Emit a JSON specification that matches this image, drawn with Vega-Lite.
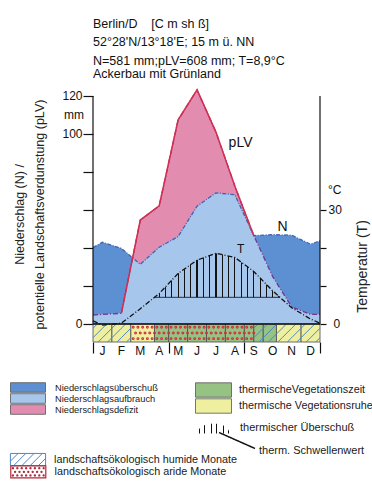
{
  "$schema": "https://vega.github.io/schema/vega-lite/v6.json",
  "width": 227,
  "height": 256,
  "autosize": {"type": "none"},
  "padding": {"left": 93, "top": 86, "right": 52, "bottom": 149},
  "background": "white",
  "config": {
    "view": {"stroke": null},
    "font": "Liberation Sans",
    "axis": {"labelFont": "Liberation Sans", "tickColor": "#111", "labelColor": "#111", "grid": false, "domain": false, "ticks": true},
    "legend": {"padding": 0, "labelFont": "Liberation Sans", "labelColor": "#1a1a1a", "labelLimit": 400}
  },
  "title": {
    "text": ["Berlin/D \u00a0\u00a0 [C m sh ß]", "52°28'N/13°18'E; 15 m ü. NN", "N=581 mm;pLV=608 mm; T=8,9°C"],
    "subtitle": "Ackerbau mit Grünland",
    "anchor": "start",
    "frame": "group",
    "font": "Liberation Sans",
    "fontSize": 12.5,
    "fontWeight": "normal",
    "color": "#111",
    "lineHeight": 18.75,
    "subtitleFont": "Liberation Sans",
    "subtitleFontSize": 12.5,
    "subtitleColor": "#111",
    "subtitlePadding": 0.5,
    "offset": 5.5
  },
  "datasets": {
    "clim": [
      {"m": 0.5, "N": 40.2, "pLV": 4.7, "T": 0.8},
      {"m": 1, "N": 43.0, "pLV": 5.0, "T": -0.3},
      {"m": 2, "N": 39.8, "pLV": 5.6, "T": 0.2},
      {"m": 3, "N": 31.4, "pLV": 54.7, "T": 4.0},
      {"m": 4, "N": 40.4, "pLV": 62.2, "T": 8.0},
      {"m": 5, "N": 46.0, "pLV": 107.4, "T": 13.3},
      {"m": 6, "N": 62.0, "pLV": 123.2, "T": 16.8},
      {"m": 7, "N": 69.0, "pLV": 101.0, "T": 18.6},
      {"m": 8, "N": 68.0, "pLV": 72.5, "T": 17.5},
      {"m": 9, "N": 46.5, "pLV": 46.5, "T": 13.8},
      {"m": 10, "N": 47.0, "pLV": 24.9, "T": 8.7},
      {"m": 11, "N": 46.7, "pLV": 9.0, "T": 4.3},
      {"m": 12, "N": 42.0, "pLV": 5.0, "T": 1.3},
      {"m": 12.5, "N": 43.7, "pLV": 5.1, "T": 0.2}
    ],
    "aufbrauch": [
      {"m": 0.5, "A": 4.7}, {"m": 1, "A": 5.0}, {"m": 2, "A": 5.6}, {"m": 2.595, "A": 34.8},
      {"m": 3, "A": 31.4}, {"m": 4, "A": 40.4}, {"m": 5, "A": 46.0}, {"m": 6, "A": 62.0},
      {"m": 7, "A": 69.0}, {"m": 8, "A": 68.0}, {"m": 9, "A": 46.5}, {"m": 10, "A": 24.9},
      {"m": 11, "A": 9.0}, {"m": 12, "A": 5.0}, {"m": 12.5, "A": 5.1}
    ],
    "surplus": [
      {"m": 3.75, "T": 7}, {"m": 4, "T": 8.0}, {"m": 5, "T": 13.3}, {"m": 6, "T": 16.8},
      {"m": 7, "T": 18.6}, {"m": 8, "T": 17.5}, {"m": 9, "T": 13.8}, {"m": 10, "T": 8.7}, {"m": 10.39, "T": 7}
    ],
    "thresh": [{"from": 3.75, "to": 10.39, "T": 7}],
    "bands": [
      {"from": 0.5, "to": 1.5, "veg": "thermische Vegetationsruhe"},
      {"from": 1.5, "to": 2.5, "veg": "thermische Vegetationsruhe"},
      {"from": 2.5, "to": 3.75, "veg": "thermische Vegetationsruhe"},
      {"from": 3.75, "to": 4.5, "veg": "thermischeVegetationszeit"},
      {"from": 4.5, "to": 5.5, "veg": "thermischeVegetationszeit"},
      {"from": 5.5, "to": 6.5, "veg": "thermischeVegetationszeit"},
      {"from": 6.5, "to": 7.5, "veg": "thermischeVegetationszeit"},
      {"from": 7.5, "to": 8.5, "veg": "thermischeVegetationszeit"},
      {"from": 8.5, "to": 9.0, "veg": "thermischeVegetationszeit"},
      {"from": 9.0, "to": 9.5, "veg": "thermischeVegetationszeit"},
      {"from": 9.5, "to": 10.2, "veg": "thermischeVegetationszeit"},
      {"from": 10.2, "to": 11.5, "veg": "thermische Vegetationsruhe"},
      {"from": 11.5, "to": 12.5, "veg": "thermische Vegetationsruhe"}
    ],
    "cells": [
      {"m": 0.75, "hum": "landschaftsökologisch humide Monate"},
      {"m": 1.25, "hum": "landschaftsökologisch humide Monate"},
      {"m": 1.75, "hum": "landschaftsökologisch humide Monate"},
      {"m": 2.25, "hum": "landschaftsökologisch humide Monate"},
      {"m": 2.75, "hum": "landschaftsökologisch aride Monate"},
      {"m": 3.25, "hum": "landschaftsökologisch aride Monate"},
      {"m": 3.75, "hum": "landschaftsökologisch aride Monate"},
      {"m": 4.25, "hum": "landschaftsökologisch aride Monate"},
      {"m": 4.75, "hum": "landschaftsökologisch aride Monate"},
      {"m": 5.25, "hum": "landschaftsökologisch aride Monate"},
      {"m": 5.75, "hum": "landschaftsökologisch aride Monate"},
      {"m": 6.25, "hum": "landschaftsökologisch aride Monate"},
      {"m": 6.75, "hum": "landschaftsökologisch aride Monate"},
      {"m": 7.25, "hum": "landschaftsökologisch aride Monate"},
      {"m": 7.75, "hum": "landschaftsökologisch aride Monate"},
      {"m": 8.25, "hum": "landschaftsökologisch aride Monate"},
      {"m": 8.75, "hum": "landschaftsökologisch aride Monate"},
      {"m": 9.25, "hum": "landschaftsökologisch humide Monate"},
      {"m": 9.75, "hum": "landschaftsökologisch humide Monate"},
      {"m": 10.25, "hum": "landschaftsökologisch humide Monate"},
      {"m": 10.75, "hum": "landschaftsökologisch humide Monate"},
      {"m": 11.25, "hum": "landschaftsökologisch humide Monate"},
      {"m": 11.75, "hum": "landschaftsökologisch humide Monate"},
      {"m": 12.25, "hum": "landschaftsökologisch humide Monate"}
    ],
    "months": [
      {"m": 1, "t": "J"}, {"m": 2, "t": "F"}, {"m": 3, "t": "M"}, {"m": 4, "t": "A"}, {"m": 5, "t": "M"}, {"m": 6, "t": "J"},
      {"m": 7, "t": "J"}, {"m": 8, "t": "A"}, {"m": 9, "t": "S"}, {"m": 10, "t": "O"}, {"m": 11, "t": "N"}, {"m": 12, "t": "D"}
    ],
    "frame": [{"m": 0.5}, {"m": 12.5}],
    "labels": [{"m": 8.3, "v": 95.3, "t": "pLV"}, {"m": 10.52, "v": 51, "t": "N"}],
    "mmunit": [{"m": 0.5, "v": 110, "t": "mm"}],
    "tlabel": [{"m": 8.3, "T": 19.7, "t": "T"}],
    "cunit": [{"m": 12.5, "T": 35.3, "t": "°C"}]
  },
  "resolve": {"scale": {"y": "independent"}, "axis": {"y": "independent"}},
  "layer": [
    {
      "layer": [
        {
          "data": {"name": "clim"},
          "mark": {"type": "area"},
          "encoding": {
            "x": {"field": "m", "type": "quantitative", "scale": {"domain": [0.5, 12.5], "nice": false, "zero": false},
              "axis": {"orient": "bottom", "values": [0.5, 1.5, 2.5, 3.5, 4.5, 5.5, 6.5, 7.5, 8.5, 9.5, 10.5, 11.5, 12.5],
                "labels": false, "tickSize": 11, "tickWidth": 1.2, "title": null}},
            "y": {"field": "N", "type": "quantitative", "scale": {"domain": [-9.5, 125.25], "nice": false, "zero": false},
              "axis": {
                "orient": "left",
                "values": [0, 20, 40, 60, 80, 100, 120],
                "labelExpr": "(datum.value === 0 || datum.value >= 100) ? datum.label : ''",
                "labelOverlap": false,
                "tickSize": 10, "tickWidth": 1.2, "labelPadding": 1, "labelFontSize": 12,
                "title": ["Niederschlag (N) /", "potentielle Landschaftsverdunstung (pLV)"],
                "titleFont": "Liberation Sans", "titleFontSize": 12.5, "titleFontWeight": "normal", "titleColor": "#222",
                "titleAngle": 270, "titleX": -80, "titleY": 128, "titleAlign": "center", "titleBaseline": "top", "titleLineHeight": 20
              }},
            "y2": {"datum": 0},
            "color": {"datum": "Niederschlagsüberschuß", "type": "nominal",
              "scale": {"domain": ["Niederschlagsüberschuß", "Niederschlagsaufbrauch", "Niederschlagsdefizit"], "range": ["#5d8fd3", "#a6c6ec", "#e28db0"]},
              "legend": {"orient": "none", "legendX": -70.5, "legendY": 296, "title": null,
                "symbolType": "M-3.5,-0.96H3.5V0.96H-3.5Z", "symbolSize": 100, "symbolStrokeWidth": 0.8, "symbolStrokeColor": "#555",
                "labelFontSize": 9.3, "labelOffset": 21.5, "rowPadding": 0,
                "encode": {"symbols": {"update": {"stroke": {"value": "#555"}, "strokeWidth": {"value": 0.8}, "strokeJoin": {"value": "round"}, "opacity": {"value": 1}}}}}}
          }
        },
        {
          "data": {"name": "clim"},
          "mark": {"type": "area"},
          "encoding": {
            "x": {"field": "m", "type": "quantitative"},
            "y": {"field": "pLV", "type": "quantitative"},
            "y2": {"datum": 0},
            "color": {"datum": "Niederschlagsdefizit", "type": "nominal"}
          }
        },
        {
          "data": {"name": "aufbrauch"},
          "mark": {"type": "area"},
          "encoding": {
            "x": {"field": "m", "type": "quantitative"},
            "y": {"field": "A", "type": "quantitative"},
            "y2": {"datum": 0},
            "color": {"datum": "Niederschlagsaufbrauch", "type": "nominal"}
          }
        },
        {
          "data": {"name": "bands"},
          "mark": {"type": "rect", "stroke": "#4a4a4a", "strokeWidth": 0.8},
          "encoding": {
            "x": {"field": "from", "type": "quantitative"},
            "x2": {"field": "to"},
            "y": {"datum": 0},
            "y2": {"datum": -9.5},
            "fill": {"field": "veg", "type": "nominal",
              "scale": {"domain": ["thermischeVegetationszeit", "thermische Vegetationsruhe"], "range": ["#96c284", "#eef0a0"]},
              "legend": {"orient": "none", "legendX": 112.5, "legendY": 296, "title": null,
                "symbolType": "M-2.4,-0.96H2.4V0.96H-2.4Z", "symbolSize": 225, "symbolStrokeWidth": 0.8, "symbolStrokeColor": "#555",
                "labelFontSize": 10.8, "labelOffset": 17.5, "rowPadding": 0,
                "encode": {"symbols": {"update": {"stroke": {"value": "#555"}, "strokeWidth": {"value": 0.8}, "strokeJoin": {"value": "round"}, "opacity": {"value": 1}}}}}}
          }
        },
        {
          "data": {"name": "cells"},
          "transform": [{"filter": "datum.hum === 'landschaftsökologisch humide Monate'"}],
          "mark": {"type": "point", "filled": false, "opacity": 1, "size": 89.5, "strokeWidth": 1,
            "shape": "M-1,1L1,-1M0.1,1.9L1,1M-1,-1L-0.1,-1.9"},
          "encoding": {
            "x": {"field": "m", "type": "quantitative"},
            "y": {"datum": -4.75},
            "stroke": {"field": "hum", "type": "nominal",
              "scale": {"domain": ["landschaftsökologisch humide Monate", "landschaftsökologisch aride Monate"], "range": ["#4f86c6", "#d0303f"]},
              "legend": {"orient": "none", "legendX": -71, "legendY": 367.5, "title": null,
                "values": ["landschaftsökologisch humide Monate"],
                "symbolType": "M-3.2,-1.1H3.2V1.1H-3.2ZM-3.2,0.3L-1.8,-1.1M-2.6,1.1L-0.4,-1.1M-1.1,1.1L1.1,-1.1M0.4,1.1L2.6,-1.1M1.9,1.1L3.2,-0.2",
                "symbolSize": 121, "symbolStrokeWidth": 1, "symbolFillColor": "transparent",
                "labelFontSize": 10.8, "labelOffset": 20}}
          }
        },
        {
          "data": {"name": "cells"},
          "transform": [{"filter": "datum.hum === 'landschaftsökologisch aride Monate'"}],
          "mark": {"type": "point", "filled": false, "opacity": 1, "strokeWidth": 1.8,
            "shape": "M-0.62,-1.2a0.12,0.12 0 1,0 0.24,0a0.12,0.12 0 1,0 -0.24,0M0.38,-1.2a0.12,0.12 0 1,0 0.24,0a0.12,0.12 0 1,0 -0.24,0M-0.12,0a0.12,0.12 0 1,0 0.24,0a0.12,0.12 0 1,0 -0.24,0M0.88,0a0.12,0.12 0 1,0 0.24,0a0.12,0.12 0 1,0 -0.24,0M-0.62,1.2a0.12,0.12 0 1,0 0.24,0a0.12,0.12 0 1,0 -0.24,0M0.38,1.2a0.12,0.12 0 1,0 0.24,0a0.12,0.12 0 1,0 -0.24,0"},
          "encoding": {
            "x": {"field": "m", "type": "quantitative"},
            "y": {"datum": -4.75},
            "stroke": {"field": "hum", "type": "nominal"},
            "size": {"field": "hum", "type": "ordinal",
              "scale": {"domain": ["landschaftsökologisch aride Monate"], "range": [89.5, 89.5]},
              "legend": {"orient": "none", "legendX": -70.2, "legendY": 380.3, "title": null,
                "symbolType": "M-3.7,-1.27H3.7V1.27H-3.7ZM-3.37,-0.76a0.12,0.12 0 1,0 0.24,0a0.12,0.12 0 1,0 -0.24,0M-2.44,-0.76a0.12,0.12 0 1,0 0.24,0a0.12,0.12 0 1,0 -0.24,0M-1.51,-0.76a0.12,0.12 0 1,0 0.24,0a0.12,0.12 0 1,0 -0.24,0M-0.58,-0.76a0.12,0.12 0 1,0 0.24,0a0.12,0.12 0 1,0 -0.24,0M0.34,-0.76a0.12,0.12 0 1,0 0.24,0a0.12,0.12 0 1,0 -0.24,0M1.27,-0.76a0.12,0.12 0 1,0 0.24,0a0.12,0.12 0 1,0 -0.24,0M2.2,-0.76a0.12,0.12 0 1,0 0.24,0a0.12,0.12 0 1,0 -0.24,0M3.13,-0.76a0.12,0.12 0 1,0 0.24,0a0.12,0.12 0 1,0 -0.24,0M-2.91,0a0.12,0.12 0 1,0 0.24,0a0.12,0.12 0 1,0 -0.24,0M-1.98,0a0.12,0.12 0 1,0 0.24,0a0.12,0.12 0 1,0 -0.24,0M-1.05,0a0.12,0.12 0 1,0 0.24,0a0.12,0.12 0 1,0 -0.24,0M-0.12,0a0.12,0.12 0 1,0 0.24,0a0.12,0.12 0 1,0 -0.24,0M0.81,0a0.12,0.12 0 1,0 0.24,0a0.12,0.12 0 1,0 -0.24,0M1.74,0a0.12,0.12 0 1,0 0.24,0a0.12,0.12 0 1,0 -0.24,0M2.67,0a0.12,0.12 0 1,0 0.24,0a0.12,0.12 0 1,0 -0.24,0M-3.37,0.76a0.12,0.12 0 1,0 0.24,0a0.12,0.12 0 1,0 -0.24,0M-2.44,0.76a0.12,0.12 0 1,0 0.24,0a0.12,0.12 0 1,0 -0.24,0M-1.51,0.76a0.12,0.12 0 1,0 0.24,0a0.12,0.12 0 1,0 -0.24,0M-0.58,0.76a0.12,0.12 0 1,0 0.24,0a0.12,0.12 0 1,0 -0.24,0M0.34,0.76a0.12,0.12 0 1,0 0.24,0a0.12,0.12 0 1,0 -0.24,0M1.27,0.76a0.12,0.12 0 1,0 0.24,0a0.12,0.12 0 1,0 -0.24,0M2.2,0.76a0.12,0.12 0 1,0 0.24,0a0.12,0.12 0 1,0 -0.24,0M3.13,0.76a0.12,0.12 0 1,0 0.24,0a0.12,0.12 0 1,0 -0.24,0",
                "symbolStrokeWidth": 1.2, "symbolStrokeColor": "#b02a3c", "symbolFillColor": "transparent",
                "labelFontSize": 10.8, "labelOffset": 20.8,
                "encode": {"symbols": {"update": {"stroke": {"value": "#b02a3c"}, "strokeWidth": {"value": 1.2}, "fill": {"value": "transparent"}, "opacity": {"value": 1}}}}}}
          }
        },
        {
          "data": {"name": "clim"},
          "mark": {"type": "line", "color": "#3f63b5", "strokeWidth": 1.3, "strokeDash": [4, 1.5, 1, 1.5]},
          "encoding": {
            "x": {"field": "m", "type": "quantitative"},
            "y": {"field": "N", "type": "quantitative"}
          }
        },
        {
          "data": {"name": "clim"},
          "mark": {"type": "line", "color": "#6e3a8f", "strokeWidth": 1.3, "strokeDash": [5, 2, 1, 2]},
          "encoding": {
            "x": {"field": "m", "type": "quantitative"},
            "y": {"field": "pLV", "type": "quantitative"}
          }
        },
        {
          "data": {"name": "clim"},
          "transform": [{"filter": "datum.m >= 2 && datum.m <= 9"}],
          "mark": {"type": "line", "color": "#d42d4f", "strokeWidth": 1.5},
          "encoding": {
            "x": {"field": "m", "type": "quantitative"},
            "y": {"field": "pLV", "type": "quantitative"}
          }
        },
        {
          "data": {"name": "frame"},
          "mark": {"type": "rule", "color": "#111", "strokeWidth": 1.2},
          "encoding": {
            "x": {"field": "m", "type": "quantitative"},
            "y": {"datum": 0},
            "y2": {"datum": 120}
          }
        },
        {
          "data": {"name": "frame"},
          "transform": [{"filter": "datum.m < 1"}],
          "mark": {"type": "rule", "color": "#111", "strokeWidth": 1.6},
          "encoding": {
            "x": {"datum": 0.5, "type": "quantitative"},
            "x2": {"datum": 12.5},
            "y": {"datum": 0}
          }
        },
        {
          "data": {"name": "months"},
          "mark": {"type": "text", "font": "Liberation Sans", "fontSize": 12, "color": "#111", "align": "center", "baseline": "top", "dy": 4},
          "encoding": {
            "x": {"field": "m", "type": "quantitative"},
            "y": {"datum": -9.5},
            "text": {"field": "t"}
          }
        },
        {
          "data": {"name": "labels"},
          "mark": {"type": "text", "font": "Liberation Sans", "fontSize": 14, "color": "#111", "align": "center", "baseline": "middle"},
          "encoding": {
            "x": {"field": "m", "type": "quantitative"},
            "y": {"field": "v", "type": "quantitative"},
            "text": {"field": "t"}
          }
        },
        {
          "data": {"name": "mmunit"},
          "mark": {"type": "text", "font": "Liberation Sans", "fontSize": 12, "color": "#111", "align": "right", "baseline": "middle", "dx": -9},
          "encoding": {
            "x": {"field": "m", "type": "quantitative"},
            "y": {"field": "v", "type": "quantitative"},
            "text": {"field": "t"}
          }
        }
      ]
    },
    {
      "layer": [
        {
          "data": {"name": "surplus"},
          "mark": {"type": "area",
            "fill": {"gradient": "linear", "x1": 0, "y1": 0, "x2": 1, "y2": 0, "stops": [
              {"offset": 0, "color": "rgba(0,0,0,0)"},
              {"offset": 0.0332, "color": "rgba(0,0,0,0)"}, {"offset": 0.0332, "color": "#111"}, {"offset": 0.0422, "color": "#111"}, {"offset": 0.0422, "color": "rgba(0,0,0,0)"},
              {"offset": 0.0833, "color": "rgba(0,0,0,0)"}, {"offset": 0.0833, "color": "#111"}, {"offset": 0.0923, "color": "#111"}, {"offset": 0.0923, "color": "rgba(0,0,0,0)"},
              {"offset": 0.1336, "color": "rgba(0,0,0,0)"}, {"offset": 0.1336, "color": "#111"}, {"offset": 0.1426, "color": "#111"}, {"offset": 0.1426, "color": "rgba(0,0,0,0)"},
              {"offset": 0.1838, "color": "rgba(0,0,0,0)"}, {"offset": 0.1838, "color": "#111"}, {"offset": 0.1928, "color": "#111"}, {"offset": 0.1928, "color": "rgba(0,0,0,0)"},
              {"offset": 0.2340, "color": "rgba(0,0,0,0)"}, {"offset": 0.2340, "color": "#111"}, {"offset": 0.2430, "color": "#111"}, {"offset": 0.2430, "color": "rgba(0,0,0,0)"},
              {"offset": 0.2841, "color": "rgba(0,0,0,0)"}, {"offset": 0.2841, "color": "#111"}, {"offset": 0.2931, "color": "#111"}, {"offset": 0.2931, "color": "rgba(0,0,0,0)"},
              {"offset": 0.3344, "color": "rgba(0,0,0,0)"}, {"offset": 0.3344, "color": "#111"}, {"offset": 0.3434, "color": "#111"}, {"offset": 0.3434, "color": "rgba(0,0,0,0)"},
              {"offset": 0.3845, "color": "rgba(0,0,0,0)"}, {"offset": 0.3845, "color": "#111"}, {"offset": 0.3935, "color": "#111"}, {"offset": 0.3935, "color": "rgba(0,0,0,0)"},
              {"offset": 0.4347, "color": "rgba(0,0,0,0)"}, {"offset": 0.4347, "color": "#111"}, {"offset": 0.4437, "color": "#111"}, {"offset": 0.4437, "color": "rgba(0,0,0,0)"},
              {"offset": 0.4850, "color": "rgba(0,0,0,0)"}, {"offset": 0.4850, "color": "#111"}, {"offset": 0.4940, "color": "#111"}, {"offset": 0.4940, "color": "rgba(0,0,0,0)"},
              {"offset": 0.5351, "color": "rgba(0,0,0,0)"}, {"offset": 0.5351, "color": "#111"}, {"offset": 0.5441, "color": "#111"}, {"offset": 0.5441, "color": "rgba(0,0,0,0)"},
              {"offset": 0.5853, "color": "rgba(0,0,0,0)"}, {"offset": 0.5853, "color": "#111"}, {"offset": 0.5943, "color": "#111"}, {"offset": 0.5943, "color": "rgba(0,0,0,0)"},
              {"offset": 0.6356, "color": "rgba(0,0,0,0)"}, {"offset": 0.6356, "color": "#111"}, {"offset": 0.6446, "color": "#111"}, {"offset": 0.6446, "color": "rgba(0,0,0,0)"},
              {"offset": 0.6857, "color": "rgba(0,0,0,0)"}, {"offset": 0.6857, "color": "#111"}, {"offset": 0.6947, "color": "#111"}, {"offset": 0.6947, "color": "rgba(0,0,0,0)"},
              {"offset": 0.7359, "color": "rgba(0,0,0,0)"}, {"offset": 0.7359, "color": "#111"}, {"offset": 0.7449, "color": "#111"}, {"offset": 0.7449, "color": "rgba(0,0,0,0)"},
              {"offset": 0.7862, "color": "rgba(0,0,0,0)"}, {"offset": 0.7862, "color": "#111"}, {"offset": 0.7952, "color": "#111"}, {"offset": 0.7952, "color": "rgba(0,0,0,0)"},
              {"offset": 0.8363, "color": "rgba(0,0,0,0)"}, {"offset": 0.8363, "color": "#111"}, {"offset": 0.8453, "color": "#111"}, {"offset": 0.8453, "color": "rgba(0,0,0,0)"},
              {"offset": 0.8866, "color": "rgba(0,0,0,0)"}, {"offset": 0.8866, "color": "#111"}, {"offset": 0.8956, "color": "#111"}, {"offset": 0.8956, "color": "rgba(0,0,0,0)"},
              {"offset": 0.9368, "color": "rgba(0,0,0,0)"}, {"offset": 0.9368, "color": "#111"}, {"offset": 0.9458, "color": "#111"}, {"offset": 0.9458, "color": "rgba(0,0,0,0)"},
              {"offset": 0.9869, "color": "rgba(0,0,0,0)"}, {"offset": 0.9869, "color": "#111"}, {"offset": 0.9959, "color": "#111"}, {"offset": 0.9959, "color": "rgba(0,0,0,0)"},
              {"offset": 1, "color": "rgba(0,0,0,0)"}
            ]}},
          "encoding": {
            "x": {"field": "m", "type": "quantitative"},
            "y": {"field": "T", "type": "quantitative", "scale": {"domain": [-4.75, 62.625], "nice": false, "zero": false},
              "axis": {
                "orient": "right",
                "values": [0, 10, 20, 30],
                "labelExpr": "(datum.value === 0 || datum.value === 30) ? datum.label : ''",
                "labelOverlap": false,
                "tickSize": 6, "tickWidth": 1.2, "labelFontSize": 12,
                "labelPadding": {"condition": {"test": "datum.value === 0", "value": 7}, "value": 2},
                "title": "Temperatur (T)",
                "titleFont": "Liberation Sans", "titleFontSize": 14, "titleFontWeight": "normal", "titleColor": "#222",
                "titleAngle": 270, "titleX": 35, "titleY": 180, "titleAlign": "center", "titleBaseline": "top"
              }},
            "y2": {"datum": 7},
            "opacity": {"datum": "thermischer Überschuß", "type": "ordinal",
              "scale": {"domain": ["thermischer Überschuß"], "range": [1]},
              "legend": {"orient": "none", "legendX": 114.5, "legendY": 336, "title": null,
                "symbolType": "M-3.4,1.1L-2.8,0.1L-2.1,-0.45L-1.1,-0.8L0,-0.9L1.1,-0.8L2.1,-0.45L2.8,0.1L3.4,1.1M-2.1,1.1V-0.45M-1.1,1.1V-0.8M0,1.1V-0.9M1.1,1.1V-0.8M2.1,1.1V-0.45",
                "symbolSize": 100, "labelFontSize": 11, "labelOffset": 20.5,
                "encode": {"symbols": {"update": {"fill": {"value": "transparent"}, "stroke": {"value": "#111"}, "strokeWidth": {"value": 1.1}, "opacity": {"value": 1}}}}}}
          }
        },
        {
          "data": {"name": "thresh"},
          "mark": {"type": "rule", "color": "#111", "strokeWidth": 1},
          "encoding": {
            "x": {"field": "from", "type": "quantitative"},
            "x2": {"field": "to"},
            "y": {"field": "T", "type": "quantitative"},
            "strokeDash": {"datum": "therm. Schwellenwert", "type": "nominal",
              "scale": {"domain": ["therm. Schwellenwert"], "range": [[1, 0]]},
              "legend": {"orient": "none", "legendX": 152, "legendY": 358.5, "title": null,
                "symbolType": "M-6.4,-3.6L0.8,-0.4", "symbolSize": 100, "labelFontSize": 11, "labelOffset": 2,
                "encode": {"symbols": {"update": {"fill": {"value": "transparent"}, "stroke": {"value": "#555"}, "strokeWidth": {"value": 0.8}, "opacity": {"value": 1}}}}}}
          }
        },
        {
          "data": {"name": "clim"},
          "mark": {"type": "line", "color": "#111", "strokeWidth": 1.3, "strokeDash": [5, 2, 1, 2]},
          "encoding": {
            "x": {"field": "m", "type": "quantitative"},
            "y": {"field": "T", "type": "quantitative"}
          }
        },
        {
          "data": {"name": "tlabel"},
          "mark": {"type": "text", "font": "Liberation Sans", "fontSize": 12, "color": "#111", "align": "center", "baseline": "middle"},
          "encoding": {
            "x": {"field": "m", "type": "quantitative"},
            "y": {"field": "T", "type": "quantitative"},
            "text": {"field": "t"}
          }
        },
        {
          "data": {"name": "cunit"},
          "mark": {"type": "text", "font": "Liberation Sans", "fontSize": 12, "color": "#111", "align": "left", "baseline": "middle", "dx": 8},
          "encoding": {
            "x": {"field": "m", "type": "quantitative"},
            "y": {"field": "T", "type": "quantitative"},
            "text": {"field": "t"}
          }
        }
      ]
    }
  ]
}
